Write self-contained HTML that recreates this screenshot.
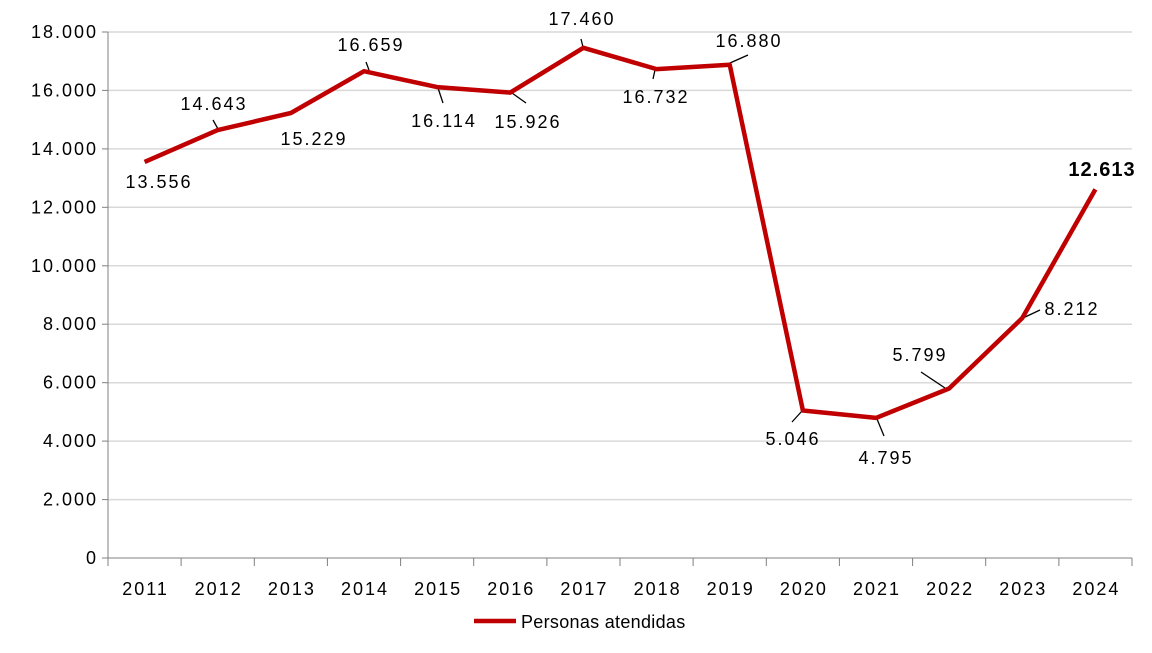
<!DOCTYPE html>
<html><head><meta charset="utf-8"><style>
body{margin:0;background:#fff}
svg{display:block}
text{font-family:"Liberation Sans",Arial,sans-serif;font-size:18px;letter-spacing:2px;fill:#000}
</style></head><body>
<svg width="1152" height="653" xmlns="http://www.w3.org/2000/svg">
<g stroke="#d9d9d9" stroke-width="1.5">
<line x1="108" x2="1132" y1="32" y2="32"/><line x1="108" x2="1132" y1="90.4" y2="90.4"/>
<line x1="108" x2="1132" y1="148.9" y2="148.9"/><line x1="108" x2="1132" y1="207.3" y2="207.3"/>
<line x1="108" x2="1132" y1="265.8" y2="265.8"/><line x1="108" x2="1132" y1="324.2" y2="324.2"/>
<line x1="108" x2="1132" y1="382.7" y2="382.7"/><line x1="108" x2="1132" y1="441.1" y2="441.1"/>
<line x1="108" x2="1132" y1="499.6" y2="499.6"/>
</g>
<g stroke="#808080" stroke-width="1">
<line x1="108" x2="108" y1="32" y2="558"/><line x1="108" x2="1132" y1="558" y2="558"/>
<line x1="102" x2="108" y1="32" y2="32"/><line x1="102" x2="108" y1="90.4" y2="90.4"/><line x1="102" x2="108" y1="148.9" y2="148.9"/><line x1="102" x2="108" y1="207.3" y2="207.3"/><line x1="102" x2="108" y1="265.8" y2="265.8"/><line x1="102" x2="108" y1="324.2" y2="324.2"/><line x1="102" x2="108" y1="382.7" y2="382.7"/><line x1="102" x2="108" y1="441.1" y2="441.1"/><line x1="102" x2="108" y1="499.6" y2="499.6"/><line x1="102" x2="108" y1="558" y2="558"/>
<path d="M108 558v8M181.1 558v8M254.3 558v8M327.4 558v8M400.6 558v8M473.7 558v8M546.9 558v8M620 558v8M693.1 558v8M766.3 558v8M839.4 558v8M912.6 558v8M985.7 558v8M1058.9 558v8M1132 558v8"/>
</g>
<g text-anchor="end">
<text x="98" y="38">18.000</text><text x="98" y="96.4">16.000</text><text x="98" y="154.9">14.000</text><text x="98" y="213.3">12.000</text><text x="98" y="271.8">10.000</text><text x="98" y="330.2">8.000</text><text x="98" y="388.7">6.000</text><text x="98" y="447.1">4.000</text><text x="98" y="505.6">2.000</text><text x="98" y="564">0</text>
</g>
<g text-anchor="middle" style="letter-spacing:1px">
<text x="145.6" y="595">2011</text><text x="218.7" y="595">2012</text><text x="291.9" y="595">2013</text><text x="365" y="595">2014</text><text x="438.1" y="595">2015</text><text x="511.3" y="595">2016</text><text x="584.4" y="595">2017</text><text x="657.6" y="595">2018</text><text x="730.7" y="595">2019</text><text x="803.9" y="595">2020</text><text x="877" y="595">2021</text><text x="950.1" y="595">2022</text><text x="1023.3" y="595">2023</text><text x="1096.4" y="595">2024</text>
</g>
<g stroke="#000" stroke-width="1.3">
<path d="M213 120L218 129M366 62L369 70M438 88L443 103M512 93L526 103M581 39L583 47M655 70L653 79M730 63L748 55M802 411L792 422M877 419L884 436M945 388L921 372M1023 318L1040 310"/>
</g>
<polyline fill="none" stroke="#c00000" stroke-width="4.5" stroke-linejoin="round" points="144.6,161.9 217.7,130.1 290.9,113 364,71.2 437.1,87.1 510.3,92.6 583.4,47.8 656.6,69.1 729.7,64.7 802.9,410.5 876,417.9 949.1,388.5 1022.3,318 1095.4,189.4"/>
<g text-anchor="middle">
<text x="159" y="188">13.556</text><text x="214" y="110">14.643</text><text x="314" y="145">15.229</text><text x="371" y="51">16.659</text><text x="444" y="127">16.114</text><text x="528" y="128">15.926</text><text x="582" y="25">17.460</text><text x="656" y="103">16.732</text><text x="749" y="47">16.880</text><text x="793" y="445">5.046</text><text x="886" y="464">4.795</text><text x="920" y="361">5.799</text><text x="1072" y="315">8.212</text>
<text x="1102" y="176" font-weight="bold" style="font-size:20px;letter-spacing:1px">12.613</text>
</g>
<line x1="474" x2="516" y1="621" y2="621" stroke="#c00000" stroke-width="4.5"/>
<text x="521" y="628" style="letter-spacing:0.3px">Personas atendidas</text>
</svg>
</body></html>
